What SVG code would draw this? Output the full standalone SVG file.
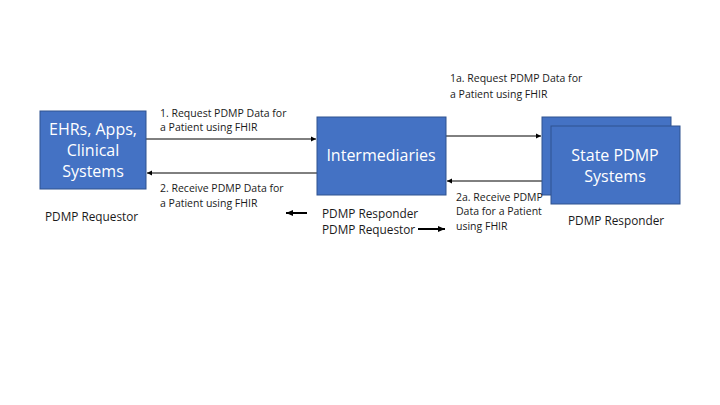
<svg xmlns="http://www.w3.org/2000/svg" width="720" height="405" viewBox="0 0 720 405">
<style>
.box{fill:#4472C4;stroke:#2F528F;stroke-width:1}
.bt{font-family:"Open Sans","Liberation Sans",sans-serif;font-size:16px;fill:#fff;text-anchor:middle}
.lb{font-family:"Open Sans","Liberation Sans",sans-serif;font-size:10.5px;fill:#1a1a1a}
.rl{font-family:"Open Sans","Liberation Sans",sans-serif;font-size:11.8px;fill:#1a1a1a}
.ln{stroke:#000;stroke-width:1;fill:none}
.thick{stroke:#000;stroke-width:2;fill:none}
</style>
<defs>
<marker id="ah" markerWidth="6" markerHeight="6" refX="5" refY="3" orient="auto" markerUnits="userSpaceOnUse">
<path d="M0,0.5 L5,3 L0,5.5 z" fill="#000"/>
</marker>
<marker id="ahb" markerWidth="8" markerHeight="8" refX="7" refY="4" orient="auto" markerUnits="userSpaceOnUse">
<path d="M0,1 L7,4 L0,7 z" fill="#000"/>
</marker>
</defs>
<rect width="720" height="405" fill="#fff"/>
<g id="connectors">
<line class="ln" x1="146" y1="139" x2="316" y2="139" marker-end="url(#ah)"/>
<line class="ln" x1="317" y1="173" x2="147" y2="173" marker-end="url(#ah)"/>
<line class="ln" x1="446" y1="136" x2="541" y2="136" marker-end="url(#ah)"/>
<line class="ln" x1="542" y1="181" x2="447" y2="181" marker-end="url(#ah)"/>
<line class="thick" x1="307" y1="213" x2="286" y2="213" marker-end="url(#ahb)"/>
<line class="thick" x1="418" y1="229" x2="445" y2="229" marker-end="url(#ahb)"/>
</g>
<g id="ehr">
<rect class="box" x="40" y="111" width="106" height="78"/>
<text class="bt" x="93" y="135">EHRs, Apps,</text>
<text class="bt" x="93" y="156">Clinical</text>
<text class="bt" x="93" y="177">Systems</text>
</g>
<g id="intermediaries">
<rect class="box" x="317" y="117" width="129" height="78"/>
<text class="bt" x="381" y="161">Intermediaries</text>
</g>
<g id="state">
<rect class="box" x="542" y="117" width="129" height="78"/>
<rect class="box" x="551" y="126" width="129" height="78"/>
<text class="bt" x="615" y="161">State PDMP</text>
<text class="bt" x="615" y="182">Systems</text>
</g>
<g id="labels">
<text class="lb" x="160" y="117">1. Request PDMP Data for</text>
<text class="lb" x="160" y="131">a Patient using FHIR</text>
<text class="lb" x="160" y="192">2. Receive PDMP Data for</text>
<text class="lb" x="160" y="207">a Patient using FHIR</text>
<text class="lb" x="450" y="82">1a. Request PDMP Data for</text>
<text class="lb" x="450" y="98">a Patient using FHIR</text>
<text class="lb" x="456" y="201">2a. Receive PDMP</text>
<text class="lb" x="456" y="215">Data for a Patient</text>
<text class="lb" x="456" y="230">using FHIR</text>
<text class="rl" x="45" y="221">PDMP Requestor</text>
<text class="rl" x="322" y="218">PDMP Responder</text>
<text class="rl" x="322" y="234">PDMP Requestor</text>
<text class="rl" x="568" y="225">PDMP Responder</text>
</g>
</svg>
